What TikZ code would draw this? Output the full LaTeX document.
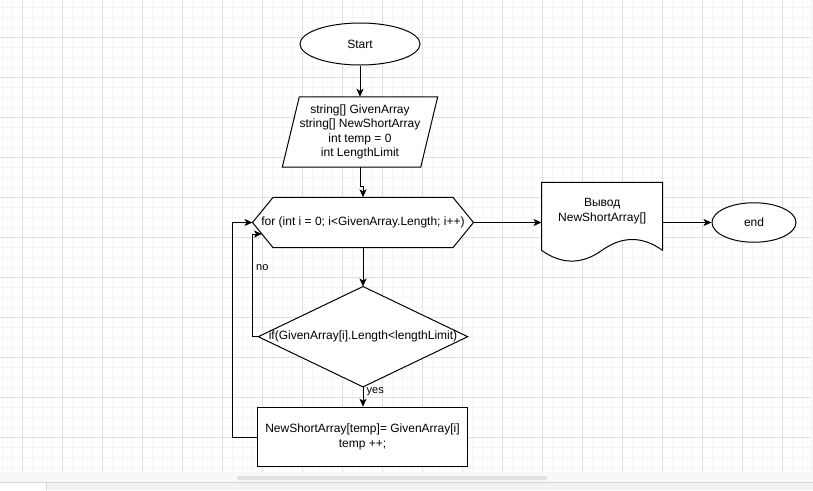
\documentclass[tikz,border=0pt]{standalone}
\usepackage{fontspec}
\setmainfont{Liberation Sans}
\usetikzlibrary{shapes.geometric,arrows.meta,calc}
\definecolor{gridmajor}{RGB}{224,224,224}
\definecolor{gridminor}{RGB}{245,245,245}
\definecolor{trackbg}{RGB}{248,248,248}
\definecolor{thumbc}{RGB}{224,224,224}
\definecolor{panelbg}{RGB}{241,242,244}
\definecolor{panelline}{RGB}{214,214,214}
\pgfdeclarelayer{background}
\pgfdeclarelayer{shapes}
\pgfsetlayers{background,shapes,main}

\begin{document}
\begin{tikzpicture}[x=1pt,y=-1pt,
  every node/.style={font=\fontsize{12}{14.4}\selectfont, text=black},
  outline/.style={draw=black, line width=1pt, line join=miter},
  box/.style={inner sep=0pt, align=center},
  flow/.style={draw=black, line width=1pt, -{Stealth[length=8pt,width=7pt,inset=2pt]}},
  terminal/.style={ellipse, outline, box, fill=white},
  tag/.style={inner sep=0pt, font=\fontsize{11}{13}\selectfont}
]
\useasboundingbox (0,0) rectangle (813,490);

% canvas grid and editor chrome
\begin{pgfonlayer}{background}
  \fill[white] (0,0) rectangle (813,490);
  \foreach \x in {2.3,12.3,...,810} \draw[gridminor, line width=1pt] (\x,0) -- (\x,472);
  \foreach \y in {7.3,17.3,...,472} \draw[gridminor, line width=1pt] (0,\y) -- (810,\y);
  \foreach \x in {22.3,62.3,...,810} \draw[gridmajor, line width=1pt] (\x,0) -- (\x,472);
  \foreach \y in {37.3,77.3,...,472} \draw[gridmajor, line width=1pt] (0,\y) -- (810,\y);
  \fill[trackbg] (810,0) rectangle (813,472);
  \fill[trackbg] (0,472) rectangle (813,482);
  \fill[thumbc, rounded corners=2pt] (237,476) rectangle (547,480);
  \draw[panelline, line width=1pt] (0,482.5) -- (813,482.5);
  \fill[panelbg] (46,483) rectangle (813,490);
  \draw[panelline, line width=1pt] (46,483) -- (46,490);
\end{pgfonlayer}

% nodes
\node[terminal, minimum width=120pt, minimum height=42pt] (start) at (360,44) {Start};
\node[box, minimum width=155pt, minimum height=70pt] (init) at (360,132)
  {string[] GivenArray\\string[] NewShortArray\\int temp = 0\\int LengthLimit};
\node[box, minimum width=220.6pt, minimum height=50pt] (loop) at (363,222.5)
  {for (int i = 0; i<GivenArray.Length; i++)};
\node[box, minimum width=121pt, minimum height=80pt] (doc) at (602.2,222.5) {};
\node[box] (doctext) at (602.2,211) {Вывод\\NewShortArray[]};
\node[terminal, minimum width=84pt, minimum height=39.5pt] (end) at (754,222.5) {end};
\node[box, minimum width=209pt, minimum height=100pt] (cond) at (363,336.7)
  {if(GivenArray[i].Length<lengthLimit)};
\node[box, outline, fill=white, minimum width=210pt, minimum height=59.5pt] (body) at (362.5,437)
  {NewShortArray[temp]= GivenArray[i]\\temp ++;};
\coordinate (noentry) at (262,234);

% shape outlines behind the texts
\begin{pgfonlayer}{shapes}
  \path[outline, fill=white] ([xshift=17pt]init.north west) -- (init.north east)
    -- ([xshift=-17pt]init.south east) -- (init.south west) -- cycle;
  \path[outline, fill=white] (loop.west) -- ([xshift=20.6pt]loop.north west)
    -- ([xshift=-20.6pt]loop.north east) -- (loop.east)
    -- ([xshift=-20.6pt]loop.south east) -- ([xshift=20.6pt]loop.south west) -- cycle;
  \path[outline, fill=white] (cond.north) -- (cond.east) -- (cond.south) -- (cond.west) -- cycle;
  \begin{scope}[shift={(doc.north west)}]
    \path[outline, fill=white] (0,0) -- (121,0) -- (121,68)
      .. controls (100.83,53.6) and (80.67,53.6) .. (60.5,68)
      .. controls (40.33,82.4) and (20.17,82.4) .. (0,68) -- cycle;
  \end{scope}
\end{pgfonlayer}

% connectors
\draw[flow] (start) -- (init);
\draw[flow] (init.south) -- ++(0,19) -| (loop.north);
\draw[flow] (loop.south) -- (cond.north);
\draw[flow] (cond.south) -- (cond.south |- body.north);
\node[tag, anchor=west] (yes) at (366.5,392) {yes};
\draw[flow] (cond.west) -- ++(-6,0) |- (noentry);
\node[tag] (no) at (262.3,267.3) {no};
\draw[flow] (body.west) -- ++(-24.6,0) |- (loop.west);
\draw[flow] (loop.east) -- (doc.west);
\draw[flow] (doc.east) -- (end.west);
\end{tikzpicture}
\end{document}
